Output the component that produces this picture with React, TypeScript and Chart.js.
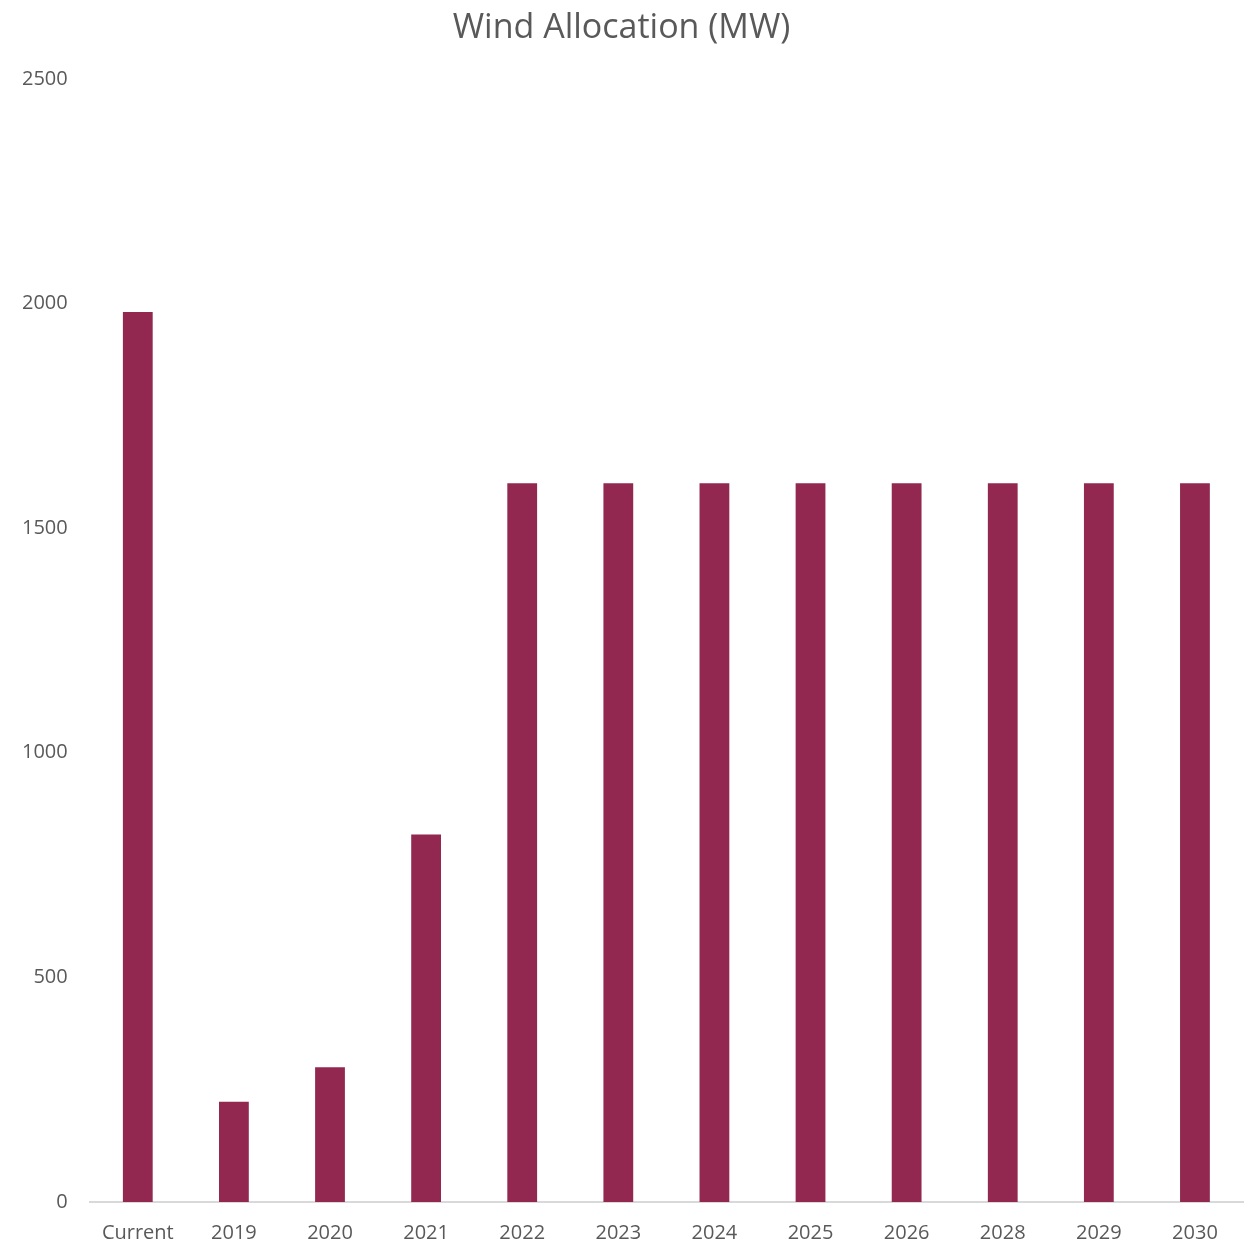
import React, { useEffect, useRef } from "react";
import { Chart, registerables } from "chart.js";

Chart.register(...registerables);

const categories = ["Current", "2019", "2020", "2021", "2022", "2023", "2024", "2025", "2026", "2028", "2029", "2030"];
const windMW = [1981, 223, 300, 818, 1600, 1600, 1600, 1600, 1600, 1600, 1600, 1600];
const yTicks = [0, 500, 1000, 1500, 2000, 2500];

const FONT = "'Open Sans', 'Liberation Sans', sans-serif";
const TEXT = "#595959";

export default function App() {
  const ref = useRef<HTMLCanvasElement | null>(null);
  useEffect(() => {
    if (!ref.current) return;
    const chart = new Chart(ref.current, {
      type: "bar",
      data: {
        labels: categories,
        datasets: [
          {
            label: "Wind Allocation (MW)",
            data: windMW,
            backgroundColor: "#92274F",
            borderWidth: 0,
            categoryPercentage: 1,
            barPercentage: 0.31,
          },
        ],
      },
      options: {
        animation: false,
        responsive: false,
        maintainAspectRatio: false,
        layout: { padding: { left: 0, right: 5, top: 8, bottom: -16 } },
        plugins: {
          legend: { display: false },
          tooltip: { enabled: false },
          title: {
            display: true,
            text: "Wind Allocation (MW)",
            color: TEXT,
            font: { family: FONT, size: 34, weight: "normal" },
            padding: { top: 0, bottom: 30 },
          },
        },
        scales: {
          x: {
            grid: { display: false, drawTicks: false },
            border: { display: true, color: "#d9d9d9", width: 2 },
            ticks: { color: TEXT, font: { family: FONT, size: 20 }, padding: 19, maxRotation: 0 },
          },
          y: {
            min: yTicks[0],
            max: yTicks[yTicks.length - 1],
            grid: { display: false, drawTicks: false },
            border: { display: false },
            afterBuildTicks: (axis: any) => {
              axis.ticks = yTicks.map((v) => ({ value: v }));
            },
            ticks: {
              color: TEXT,
              font: { family: FONT, size: 20 },
              padding: 22,
              callback: (v: any) => String(v),
            },
          },
        },
      },
    });
    return () => chart.destroy();
  }, []);
  return (
    <div style={{ position: "absolute", left: 0, top: 0, width: 1248, height: 1248, background: "#fff" }}>
      <canvas ref={ref} width={1248} height={1248} style={{ width: 1248, height: 1248 }} />
    </div>
  );
}
